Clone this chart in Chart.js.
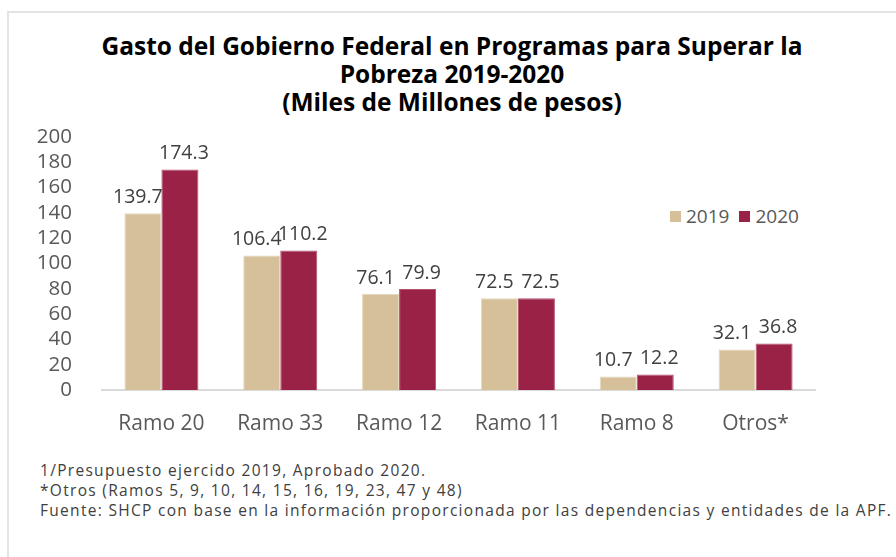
<!DOCTYPE html>
<html>
<head>
<meta charset="utf-8">
<script src="https://cdn.jsdelivr.net/npm/chart.js@4"></script>
<style>
  html, body { margin: 0; padding: 0; background: #fff; }
  body { width: 896px; height: 557px; position: relative; overflow: hidden; font-family: "Open Sans", sans-serif; }
  #marco { position: absolute; left: 7px; top: 11px; width: 1000px; height: 1000px; border: 2px solid #e3e3e3; }
  #titulo { position: absolute; left: 0; top: 32px; width: 904px; text-align: center; font-weight: 700; font-size: 24.5px; line-height: 28px; color: #000; }
  #leyenda { position: absolute; left: 670px; top: 203px; font-size: 19px; color: #595959; white-space: nowrap; }
  #leyenda span.caja { display: inline-block; width: 11px; height: 11px; margin-right: 5px; vertical-align: 1px; }
  #leyenda span.item { margin-right: 10px; }
  #notas { position: absolute; left: 40px; top: 460px; font-size: 15.5px; letter-spacing: 1.3px; line-height: 20px; color: #404040; white-space: nowrap; }
  canvas { position: absolute; left: 0; top: 0; }
</style>
</head>
<body>
<div id="marco"></div>
<div id="titulo">Gasto del Gobierno Federal en Programas para Superar la<br>Pobreza 2019-2020<br>(Miles de Millones de pesos)</div>
<div id="leyenda"></div>
<div id="notas">
  1/Presupuesto ejercido 2019, Aprobado 2020.<br>
  *Otros (Ramos 5, 9, 10, 14, 15, 16, 19, 23, 47 y 48)<br>
  Fuente: SHCP con base en la información proporcionada por las dependencias y entidades de la APF.
</div>
<canvas id="grafica" width="896" height="557"></canvas>
<script>
// datos
const categorias = ["Ramo 20", "Ramo 33", "Ramo 12", "Ramo 11", "Ramo 8", "Otros*"];
const gasto2019 = [139.7, 106.4, 76.1, 72.5, 10.7, 32.1];
const gasto2020 = [174.3, 110.2, 79.9, 72.5, 12.2, 36.8];
const series = ["2019", "2020"];
const colores = ["#D5C09A", "#9B2247"];
const bordes = ["#E4D7BE", "#B5526F"];

// leyenda
const leyenda = document.getElementById("leyenda");
series.forEach((s, i) => {
  leyenda.innerHTML += `<span class="item"><span class="caja" style="background:${colores[i]}"></span>${s}</span>`;
});

// etiquetas de valor arriba de cada barra (2019 un poco a la izquierda, 2020 a la derecha)
const desplazamiento = [-5, 4];
const etiquetas = {
  id: "etiquetas",
  afterDatasetsDraw(chart) {
    const c = chart.ctx;
    c.save();
    c.font = '19.5px "Open Sans"';
    c.fillStyle = "#404040";
    c.textAlign = "center";
    c.textBaseline = "bottom";
    chart.data.datasets.forEach((ds, i) => {
      chart.getDatasetMeta(i).data.forEach((bar, j) => {
        c.fillText(ds.data[j].toFixed(1), bar.x + desplazamiento[i], bar.y - 6);
      });
    });
    c.restore();
  }
};

new Chart(document.getElementById("grafica").getContext("2d"), {
  type: "bar",
  data: {
    labels: categorias,
    datasets: [
      { label: series[0], data: gasto2019, backgroundColor: colores[0], borderColor: bordes[0], borderWidth: 1 },
      { label: series[1], data: gasto2020, backgroundColor: colores[1], borderColor: bordes[1], borderWidth: 1 }
    ]
  },
  options: {
    responsive: false,
    animation: false,
    categoryPercentage: 0.623,
    barPercentage: 1,
    layout: { padding: { left: 0, right: 81, top: 137, bottom: 117 } },
    plugins: { legend: { display: false }, title: { display: false }, tooltip: { enabled: false } },
    scales: {
      x: {
        grid: { display: false },
        border: { color: "#D9D9D9", width: 2 },
        ticks: { color: "#595959", font: { family: "Open Sans", size: 21 }, padding: 13 },
        afterFit(scale) { scale.height = 50; }
      },
      y: {
        min: 0, max: 200,
        grid: { display: false },
        border: { display: false },
        ticks: { stepSize: 20, autoSkip: false, color: "#595959", font: { family: "Open Sans", size: 20.5 }, padding: 22 },
        afterFit(scale) { scale.width = 102; }
      }
    }
  },
  plugins: [etiquetas]
});
</script>
</body>
</html>
